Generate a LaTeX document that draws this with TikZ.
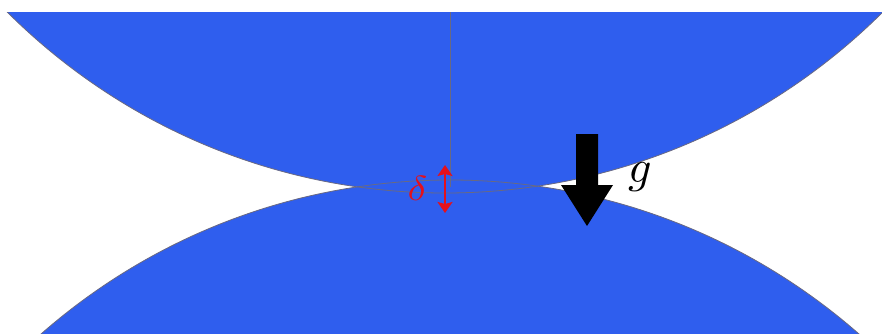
\documentclass[tikz,border=0pt]{standalone}
\usetikzlibrary{arrows.meta}
\definecolor{discblue}{RGB}{47,94,238}
\definecolor{edgegray}{RGB}{105,105,130}
\definecolor{deltared}{RGB}{228,16,28}
\begin{document}
\begin{tikzpicture}[x=1pt,y=-1pt,
  disc/.style={fill=discblue},
  rim/.style={draw=edgegray,line width=0.8pt},
  redarrow/.style={draw=deltared,line width=1.8pt,{Stealth[length=11pt,width=15pt,inset=2pt]}-{Stealth[length=11pt,width=15pt,inset=2pt]}},
  gravity/.style={fill=black}]
\useasboundingbox (0,0) rectangle (882,333);
\begin{scope}
  \clip (0,12) rectangle (882,333);
  \fill[disc] (445,-427) circle[radius=620pt];
  \fill[disc] (450,800) circle[radius=620pt];
  \draw[rim] (445,-427) circle[radius=620pt];
  \draw[rim] (450,800) circle[radius=620pt];
\end{scope}
% axis line
\coordinate (axtop) at (450,12);
\coordinate (axbot) at (450,187);
\draw[draw=edgegray,line width=0.8pt] (axtop) -- (axbot);
% delta
\coordinate (dtop) at (445,165);
\coordinate (dbot) at (445,213);
\draw[redarrow] (dtop) -- (dbot);
\node[text=deltared,inner sep=0pt,xscale=4.1,yscale=3.5] (delta) at (417.5,188) {$\delta$};
% gravity arrow
\fill[gravity] (576,134) -- (598,134) -- (598,185) -- (613,185) -- (587,226) -- (561,185) -- (576,185) -- cycle;
\node[inner sep=0pt,scale=4.6] (g) at (640,177.5) {$g$};
\end{tikzpicture}
\end{document}
